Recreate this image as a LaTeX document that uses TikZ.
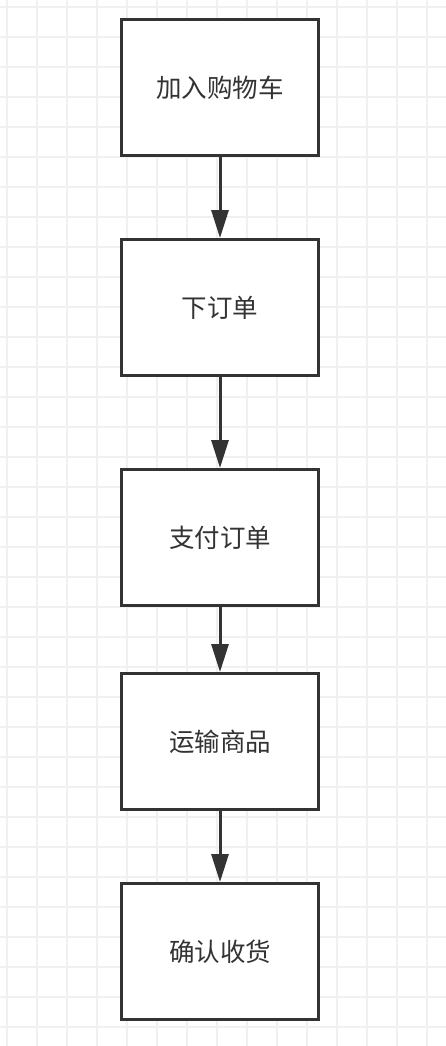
\documentclass[tikz,border=0pt]{standalone}
\usepackage{fontspec}
\newfontfamily\cjk{Noto Sans CJK SC}
\usetikzlibrary{arrows.meta}
\definecolor{ink}{HTML}{333333}
\definecolor{gridc}{HTML}{F0F0F0}
\tikzset{
  stepbox/.style={draw=ink, line width=3pt, fill=white, minimum width=197pt, minimum height=136pt, inner sep=0pt,
    font=\cjk\fontsize{25.5pt}{30pt}\selectfont, text=ink},
  flow/.style={draw=ink, line width=3pt, -{Triangle[length=28pt,width=17pt]}},
}
\begin{document}
\begin{tikzpicture}[x=1pt,y=-1pt]
\useasboundingbox (0,0) rectangle (446,1046);
\fill[white] (0,0) rectangle (446,1046);
\foreach \i in {0,...,14} {\draw[gridc, line width=1.5pt] (7+30*\i,0) -- (7+30*\i,1046);}
\foreach \i in {0,...,34} {\draw[gridc, line width=1.5pt] (0,7+30*\i) -- (446,7+30*\i);}
\node[stepbox] (a) at (220,87.5) {加入购物车};
\node[stepbox] (b) at (220,307.5) {下订单};
\node[stepbox] (c) at (220,537.5) {支付订单};
\node[stepbox] (d) at (220,741.5) {运输商品};
\node[stepbox] (e) at (220,951.5) {确认收货};
\draw[flow] (a) -- (b);
\draw[flow] (b) -- (c);
\draw[flow] (c) -- (d);
\draw[flow] (d) -- (e);
\end{tikzpicture}
\end{document}
